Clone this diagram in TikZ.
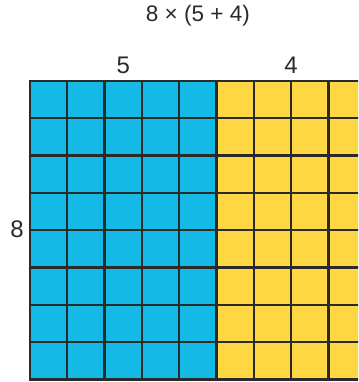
\documentclass[tikz,border=0pt]{standalone}
\usepackage{fontspec}
\setmainfont{Liberation Sans}
\definecolor{gblue}{HTML}{14B9E5}
\definecolor{gyellow}{HTML}{FFD743}
\definecolor{ink}{HTML}{2A2A2A}
\begin{document}
\begin{tikzpicture}[x=1pt,y=1pt,
 lbl/.style={font=\fontsize{24}{28}\selectfont, text=ink, anchor=base, inner sep=0pt},
 ttl/.style={font=\fontsize{22.5}{26}\selectfont, text=ink, anchor=base, inner sep=0pt},
 gridline/.style={draw=ink, line width=2.3pt, line cap=rect}]
\useasboundingbox (0,0) rectangle (358,382);
\begin{scope}
\clip (0,0) rectangle (358,382);
\fill[gblue] (30,2.6) rectangle (216.5,301);
\fill[gyellow] (216.5,2.6) rectangle (365.7,301);
\foreach \i in {0,...,9} \draw[gridline] ({30+\i*37.3},2.6) -- ({30+\i*37.3},301);
\foreach \j in {0,...,8} \draw[gridline] (30,{2.6+\j*37.3}) -- (365.7,{2.6+\j*37.3});
\end{scope}
\node[ttl] (title) at (197.9,360.5) {8 × (5 + 4)};
\node[lbl] (five) at (123.25,308) {5};
\node[lbl] (four) at (291,308) {4};
\node[lbl] (eight) at (17,144.3) {8};
\end{tikzpicture}
\end{document}
